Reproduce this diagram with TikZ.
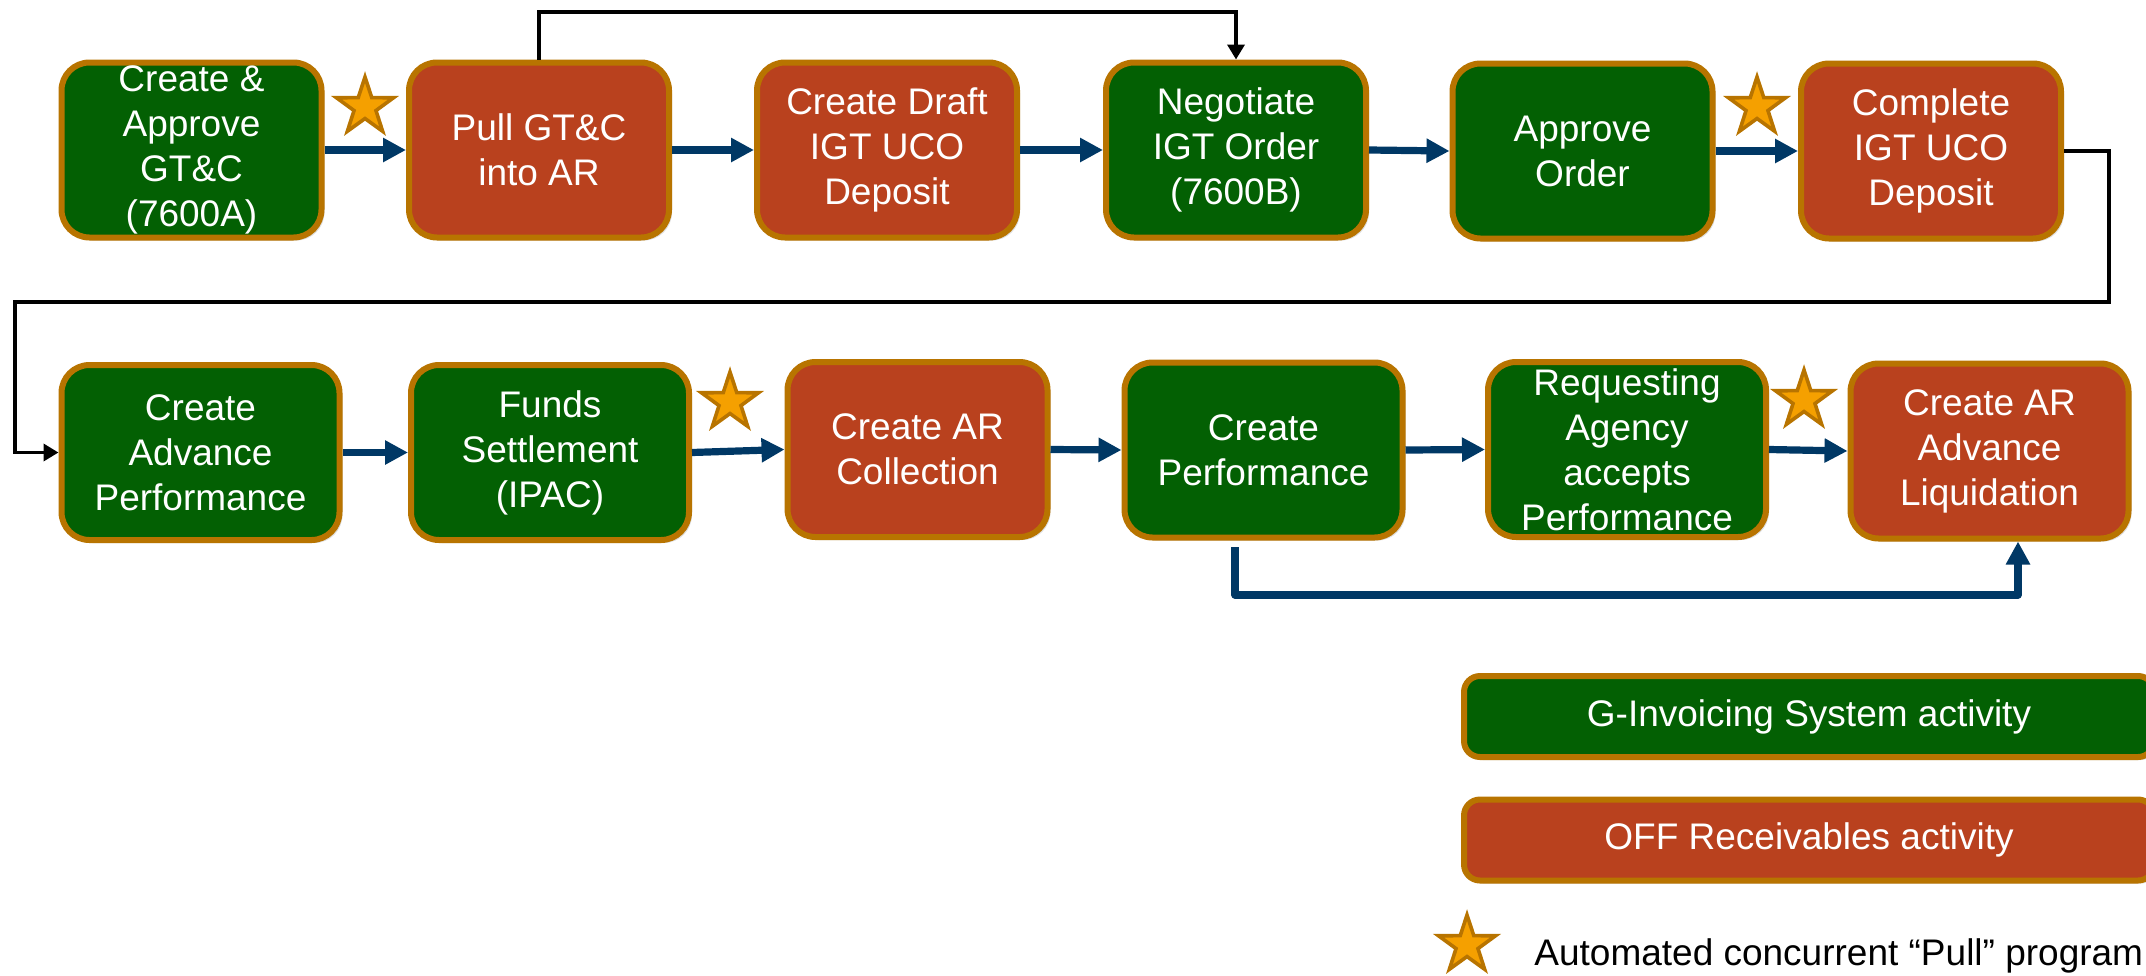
\documentclass[tikz,border=0pt]{standalone}
\usepackage{fontspec}
\setmainfont{Liberation Sans}
\usetikzlibrary{arrows.meta,shapes.geometric,shadows}
\definecolor{gigreen}{RGB}{3,96,3}
\definecolor{offred}{RGB}{185,65,30}
\definecolor{goldborder}{RGB}{184,116,0}
\definecolor{flowblue}{RGB}{0,56,101}
\definecolor{starfill}{RGB}{245,160,0}
\tikzset{
  box/.style={rounded corners=14pt, draw=goldborder, line width=3pt,
    minimum width=130pt, minimum height=87.5pt, inner sep=0pt,
    drop shadow={shadow xshift=1.5pt, shadow yshift=-1.5pt, opacity=0.25}},
  gbox/.style={box, fill=gigreen},
  rbox/.style={box, fill=offred},
  wide/.style={minimum width=139pt},
  txt/.style={text=white, align=center, inner sep=0pt,
    font=\fontsize{18.5}{22.5}\selectfont},
  legbox/.style={rounded corners=8pt, draw=goldborder, line width=3pt,
    minimum width=345pt, minimum height=40.5pt, inner sep=0pt,
    drop shadow={shadow xshift=1.5pt, shadow yshift=-1.5pt, opacity=0.25}},
  flow/.style={draw=flowblue, line width=3.6pt, line join=round,
    -{Triangle[length=11.5pt,width=11.5pt]}},
  loopline/.style={draw=black, line width=1.8pt, line join=miter,
    -{Triangle[length=7.5pt,width=8.5pt]}},
  pullstar/.style={star, star points=5, star point ratio=2.6, minimum size=30pt,
    inner sep=0pt, fill=starfill, draw=goldborder, line width=1.8pt}
}
\begin{document}
\begin{tikzpicture}[x=0.5pt,y=-0.5pt]
\useasboundingbox (0,0) rectangle (2146,975);

% top row
\node[gbox] (b1) at (191.5,150) {};
\node[rbox] (b2) at (539,150) {};
\node[rbox] (b3) at (887,150) {};
\node[gbox] (b4) at (1236,150) {};
\node[gbox] (b5) at (1582.5,151) {};
\node[rbox] (b6) at (1931,151) {};
\node[txt] (t1) at (b1) {Create \&\\Approve\\GT\&C\\(7600A)};
\node[txt] (t2) at (b2) {Pull GT\&C\\into AR};
\node[txt] (t3) at (b3) {Create Draft\\IGT UCO\\Deposit};
\node[txt] (t4) at (b4) {Negotiate\\IGT Order\\(7600B)};
\node[txt] (t5) at (b5) {Approve\\Order};
\node[txt] (t6) at (b6) {Complete\\IGT UCO\\Deposit};

% bottom row
\node[gbox,wide] (b7) at (200.5,452.5) {};
\node[gbox,wide] (b8) at (550,452.5) {};
\node[rbox] (b9) at (917.5,449.5) {};
\node[gbox,wide] (b10) at (1263.5,450) {};
\node[gbox,wide] (b11) at (1627,449.5) {};
\node[rbox,wide] (b12) at (1989.5,451) {};
\node[txt] (t7) at (b7) {Create\\Advance\\Performance};
\node[txt] (t8) at (b8) {Funds\\Settlement\\(IPAC)};
\node[txt] (t9) at (b9) {Create AR\\Collection};
\node[txt] (t10) at (b10) {Create\\Performance};
\node[txt] (t11) at (b11) {Requesting\\Agency\\accepts\\Performance};
\node[txt] (t12) at (b12) {Create AR\\Advance\\Liquidation};

% flow arrows
\draw[flow] (b1.east) -- (b2.west);
\draw[flow] (b2.east) -- (b3.west);
\draw[flow] (b3.east) -- (b4.west);
\draw[flow] (b4.east) -- (b5.west);
\draw[flow] (b5.east) -- (b6.west);
\draw[flow] (b7.east) -- (b8.west);
\draw[flow] (b8.east) -- (b9.west);
\draw[flow] (b9.east) -- (b10.west);
\draw[flow] (b10.east) -- (b11.west);
\draw[flow] (b11.east) -- (b12.west);

% connectors
\coordinate (topy) at (0,12);
\draw[loopline] (b2.north) -- (b2.north |- topy) -| (b4.north);
\coordinate (r1) at (2109,302);
\coordinate (l1) at (15,302);
\draw[loopline] (b6.east) -| (r1) -- (l1) |- (b7.west);
\coordinate (c1) at (1235,547);
\coordinate (c2) at (2018,595);
\draw[flow] (c1) |- (c2) -- (c2 |- b12.south);

% stars
\node[pullstar] (s1) at (365,107) {};
\node[pullstar] (s2) at (1757,107) {};
\node[pullstar] (s3) at (730,402) {};
\node[pullstar] (s4) at (1804,400) {};

% legend
\node[legbox, fill=gigreen] (lg) at (1809,716.5) {};
\node[txt] (lgt) at (lg) {G-Invoicing System activity};
\node[legbox, fill=offred] (lr) at (1809,840) {};
\node[txt] (lrt) at (lr) {OFF Receivables activity};
\node[pullstar] (ls) at (1467,945) {};
\node[anchor=base west, inner sep=0pt, font=\fontsize{18.5}{22.5}\selectfont] (lst) at (1534,965) {Automated concurrent “Pull” program};
\end{tikzpicture}
\end{document}
